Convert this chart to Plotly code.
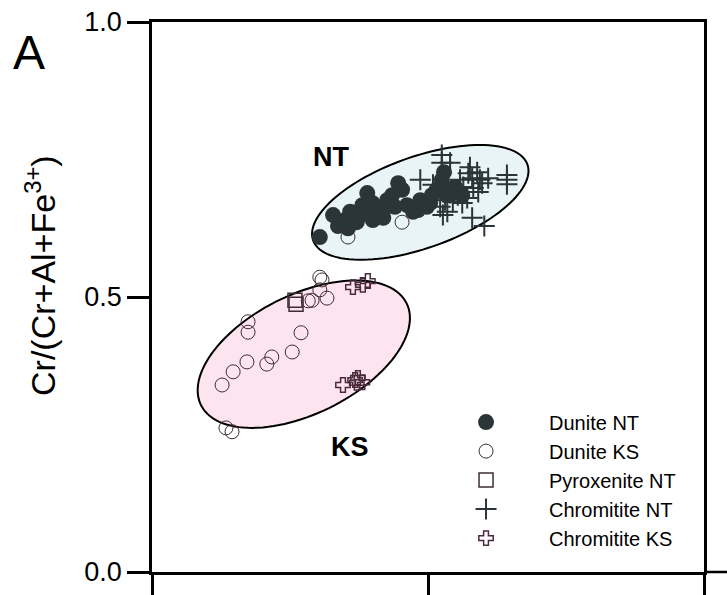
import numpy as np
import plotly.graph_objects as go

# ---- data (x: unlabeled ratio axis 0..1, y: Cr/(Cr+Al+Fe3+)) ----
dunite_nt_x = [0.304, 0.328, 0.350, 0.359, 0.371, 0.355, 0.381, 0.390, 0.399, 0.408,
               0.419, 0.400, 0.426, 0.435, 0.446, 0.453, 0.440, 0.462, 0.473, 0.486,
               0.498, 0.507, 0.516, 0.525, 0.527, 0.535, 0.549, 0.562, 0.482, 0.422,
               0.377, 0.337, 0.388, 0.504, 0.529]
dunite_nt_y = [0.609, 0.649, 0.640, 0.655, 0.636, 0.625, 0.667, 0.689, 0.671, 0.655,
               0.644, 0.640, 0.676, 0.685, 0.707, 0.695, 0.664, 0.667, 0.655, 0.676,
               0.664, 0.685, 0.695, 0.713, 0.695, 0.685, 0.700, 0.685, 0.658, 0.662,
               0.649, 0.629, 0.653, 0.671, 0.727]

dunite_ks_x = [0.355, 0.453, 0.304, 0.308, 0.304, 0.290, 0.283, 0.317, 0.174, 0.174,
               0.270, 0.254, 0.217, 0.208, 0.172, 0.147, 0.127, 0.134, 0.145]
dunite_ks_y = [0.609, 0.636, 0.536, 0.531, 0.513, 0.494, 0.493, 0.498, 0.455, 0.436,
               0.435, 0.400, 0.391, 0.378, 0.382, 0.364, 0.340, 0.262, 0.255]

pyroxenite_nt_x = [0.259, 0.261]
pyroxenite_nt_y = [0.494, 0.487]

chromitite_nt_x = [0.525, 0.525, 0.540, 0.486, 0.509, 0.576, 0.589, 0.573, 0.594, 0.558,
                   0.580, 0.598, 0.564, 0.582, 0.549, 0.540, 0.554, 0.571, 0.531, 0.545,
                   0.562, 0.522, 0.535, 0.527, 0.643, 0.643, 0.643, 0.580, 0.602, 0.609,
                   0.591]
chromitite_nt_y = [0.758, 0.744, 0.744, 0.713, 0.704, 0.736, 0.727, 0.725, 0.713, 0.713,
                   0.716, 0.707, 0.700, 0.698, 0.695, 0.689, 0.685, 0.680, 0.676, 0.673,
                   0.671, 0.664, 0.655, 0.649, 0.722, 0.713, 0.705, 0.644, 0.629, 0.716,
                   0.691]

chromitite_ks_x = [0.364, 0.382, 0.391, 0.346, 0.368, 0.373, 0.381, 0.371]
chromitite_ks_y = [0.518, 0.522, 0.529, 0.340, 0.349, 0.353, 0.345, 0.344]

# field ellipses: centre x, centre y, semi-major, semi-minor, tilt (deg)
nt_field = [0.486, 0.672, 0.206, 0.083, 19.6]
ks_field = [0.275, 0.396, 0.208, 0.108, 26.5]

y_ticks = [0.0, 0.5, 1.0]
y_tick_text = ["0.0", "0.5", "1.0"]
x_ticks = [0.0, 0.5, 1.0]

FONT = "Arial, 'Liberation Sans', sans-serif"


def ellipse_path(cx, cy, a, b, ang):
    t = np.linspace(0, 2 * np.pi, 120)
    th = np.radians(ang)
    xs = cx + a * np.cos(t) * np.cos(th) - b * np.sin(t) * np.sin(th)
    ys = cy + a * np.cos(t) * np.sin(th) + b * np.sin(t) * np.cos(th)
    pts = [f"{x:.5f},{y:.5f}" for x, y in zip(xs, ys)]
    return "M " + " L ".join(pts) + " Z"


fig = go.Figure()

fig.add_trace(go.Scatter(x=dunite_nt_x, y=dunite_nt_y, mode="markers", name="Dunite NT",
                         marker=dict(symbol="circle", size=16, color="#2b3538",
                                     line=dict(width=0))))
fig.add_trace(go.Scatter(x=dunite_ks_x, y=dunite_ks_y, mode="markers", name="Dunite KS",
                         marker=dict(symbol="circle-open", size=14, color="#3d2c36",
                                     line=dict(width=1))))
fig.add_trace(go.Scatter(x=pyroxenite_nt_x, y=pyroxenite_nt_y, mode="markers",
                         name="Pyroxenite NT",
                         marker=dict(symbol="square-open", size=14, color="#3d2c36",
                                     line=dict(width=1.5))))
fig.add_trace(go.Scatter(x=chromitite_nt_x, y=chromitite_nt_y, mode="markers",
                         name="Chromitite NT",
                         marker=dict(symbol="cross-thin", size=15, color="#2b3538",
                                     line=dict(width=2, color="#2b3538"))))
fig.add_trace(go.Scatter(x=chromitite_ks_x, y=chromitite_ks_y, mode="markers",
                         name="Chromitite KS",
                         marker=dict(symbol="cross-open", size=12, color="#4a2a3c",
                                     line=dict(width=1.5))))

fig.add_shape(type="path", path=ellipse_path(*nt_field), xref="x", yref="y",
              fillcolor="#e9f4f6", line=dict(color="black", width=2), layer="below")
fig.add_shape(type="path", path=ellipse_path(*ks_field), xref="x", yref="y",
              fillcolor="#fde4ef", line=dict(color="black", width=2), layer="below")

# bottom frame line continues to the right edge of the panel
fig.add_shape(type="line", xref="paper", yref="paper", x0=1, x1=1.06, y0=0, y1=0,
              line=dict(color="black", width=2.5))

fig.add_annotation(text="<b>NT</b>", x=0.324, y=0.755, xref="x", yref="y",
                   showarrow=False, font=dict(size=27, family=FONT, color="black"))
fig.add_annotation(text="<b>KS</b>", x=0.359, y=0.227, xref="x", yref="y",
                   showarrow=False, font=dict(size=27, family=FONT, color="black"))
fig.add_annotation(text="A", x=0.0, y=1.0, xref="paper", yref="paper",
                   xanchor="center", yanchor="middle",
                   xshift=-123, yshift=-30, showarrow=False,
                   font=dict(size=48, family=FONT, color="black"))
# y-axis title
fig.add_annotation(text="Cr/(Cr+Al+Fe<sup>3+</sup>)", x=0.0, y=0.5, xref="paper",
                   yref="paper", xanchor="center", yanchor="middle", textangle=-90,
                   xshift=-112, yshift=21, showarrow=False,
                   font=dict(size=34, family=FONT, color="black"))

fig.update_xaxes(range=[0, 1], tickvals=x_ticks, showticklabels=False, ticks="outside",
                 ticklen=23, tickwidth=2.5, tickcolor="black", showline=True,
                 linecolor="black", linewidth=2.5, mirror=True, showgrid=False,
                 zeroline=False, automargin=False)
fig.update_yaxes(range=[0, 1], tickvals=y_ticks, ticktext=y_tick_text, ticks="outside",
                 ticklen=22, tickwidth=2.5, tickcolor="black", showline=True,
                 linecolor="black", linewidth=2.5, mirror=True, showgrid=False,
                 zeroline=False, automargin=False,
                 tickfont=dict(size=27, family=FONT, color="black"))

fig.update_layout(
    width=727, height=595,
    margin=dict(l=152, r=23, t=22, b=23),
    paper_bgcolor="white", plot_bgcolor="white",
    font=dict(family=FONT, color="black"),
    legend=dict(x=0.491, y=0.308, xanchor="left", yanchor="top",
                bgcolor="rgba(0,0,0,0)", borderwidth=0,
                font=dict(size=20, family=FONT, color="black"),
                itemwidth=116),
)

fig.write_html("out.html")
